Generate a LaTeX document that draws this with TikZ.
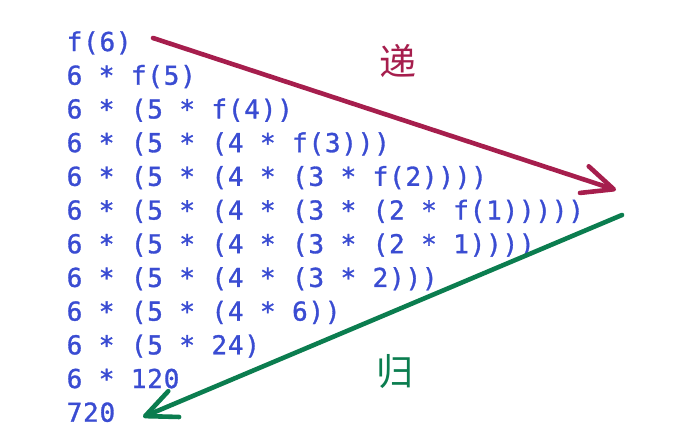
\documentclass[tikz,border=0pt]{standalone}
\usepackage{fontspec}
\usetikzlibrary{arrows.meta}
\newfontfamily\codefont[LetterSpace=3,FakeBold=1.2]{DejaVu Sans Mono}
\newfontfamily\cjkfont{Noto Sans CJK SC}
\definecolor{codeblue}{HTML}{3A4CD2}
\definecolor{recred}{HTML}{A61E4D}
\definecolor{retgreen}{HTML}{0B7D4F}
\tikzset{
  codeline/.style={anchor=base west, inner sep=0pt, text=codeblue, font=\codefont\fontsize{26}{30}\selectfont},
  cjklabel/.style={inner sep=0pt, font=\cjkfont\fontsize{37}{40}\selectfont},
  bigarrow/.style={line width=4.6pt, line cap=round, line join=round, -{Straight Barb[length=31pt,width=28pt,line cap=round,line join=round]}}
}
\begin{document}
\begin{tikzpicture}[x=1pt,y=-1pt]
\useasboundingbox (0,0) rectangle (690,440);
\node[codeline] (l1)  at (66.5,51)     {f(6)};
\node[codeline] (l2)  at (66.5,84.7)   {6 * f(5)};
\node[codeline] (l3)  at (66.5,118.4)  {6 * (5 * f(4))};
\node[codeline] (l4)  at (66.5,152.1)  {6 * (5 * (4 * f(3)))};
\node[codeline] (l5)  at (66.5,185.8)  {6 * (5 * (4 * (3 * f(2))))};
\node[codeline] (l6)  at (66.5,219.5)  {6 * (5 * (4 * (3 * (2 * f(1)))))};
\node[codeline] (l7)  at (66.5,253.2)  {6 * (5 * (4 * (3 * (2 * 1))))};
\node[codeline] (l8)  at (66.5,286.9)  {6 * (5 * (4 * (3 * 2)))};
\node[codeline] (l9)  at (66.5,320.6)  {6 * (5 * (4 * 6))};
\node[codeline] (l10) at (66.5,354.3)  {6 * (5 * 24)};
\node[codeline] (l11) at (66.5,388)    {6 * 120};
\node[codeline] (l12) at (66.5,421.7)  {720};
\node[cjklabel, text=recred] (di) at (398,61) {递};
\node[cjklabel, text=retgreen] (gui) at (395,372) {归};
\coordinate (rs) at (153,38);
\coordinate (re) at (616,190);
\coordinate (gs) at (622,215);
\coordinate (ge) at (143,417);
\draw[bigarrow, recred] (rs) -- (re);
\draw[bigarrow, retgreen] (gs) -- (ge);
\end{tikzpicture}
\end{document}
